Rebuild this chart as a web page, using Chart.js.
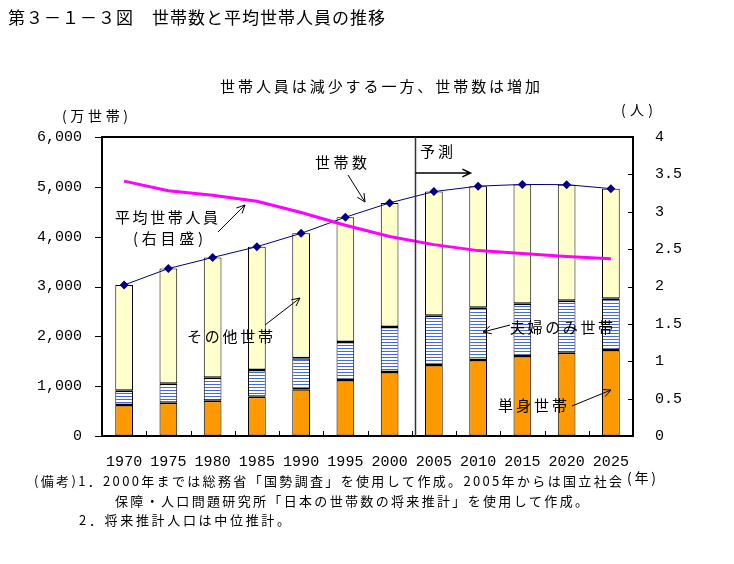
<!DOCTYPE html>
<html>
<head>
<meta charset="utf-8">
<script src="https://cdn.jsdelivr.net/npm/chart.js@4"></script>
<style>
  html, body { margin: 0; padding: 0; background: #fff; }
  canvas { display: block; }
</style>
</head>
<body>
<canvas id="chart" width="734" height="564"></canvas>
<script>
// data (万世帯 / 人)
const years = ['1970', '1975', '1980', '1985', '1990', '1995', '2000', '2005', '2010', '2015', '2020', '2025'];
const singleHH = [620, 669, 709, 789, 940, 1124, 1285, 1425, 1525, 1605, 1672, 1726];
const coupleHH = [290, 380, 460, 536, 622, 762, 902, 989, 1050, 1050, 1044, 1029];
const otherHH = [2120, 2311, 2413, 2473, 2505, 2504, 2491, 2490, 2439, 2393, 2328, 2209];
const totalHH = [3030, 3360, 3582, 3798, 4067, 4390, 4678, 4904, 5014, 5048, 5044, 4964];
const avgSize = [3.41, 3.28, 3.22, 3.14, 2.99, 2.82, 2.67, 2.56, 2.48, 2.44, 2.40, 2.37];
const leftMax = 6000, leftStep = 1000;
const rightMax = 4, rightStep = 0.5;

const jp = '"Noto Sans CJK JP", sans-serif';
const num = '"Liberation Mono", monospace';

// white with blue horizontal stripes for 夫婦のみ世帯
const pc = document.createElement('canvas');
pc.width = 4; pc.height = 3;
const pctx = pc.getContext('2d');
pctx.fillStyle = '#fff';
pctx.fillRect(0, 0, 4, 3);
pctx.fillStyle = '#4169e1';
pctx.fillRect(0, 0, 4, 1);
const stripes = pctx.createPattern(pc, 'repeat');

// draw text stretched to a given width
function fitText(ctx, text, x, y, w, size) {
  ctx.font = size + 'px ' + jp;
  ctx.letterSpacing = '0px';
  const n = [...text].length;
  const m = ctx.measureText(text).width;
  const ls = n > 1 ? (w - m) / (n - 1) : 0;
  ctx.letterSpacing = ls + 'px';
  ctx.textAlign = 'left';
  ctx.textBaseline = 'middle';
  ctx.fillText(text, x, y);
  ctx.letterSpacing = '0px';
}

function arrow(ctx, x1, y1, x2, y2) {
  const a = Math.atan2(y2 - y1, x2 - x1);
  const h = 9, s = 0.45;
  ctx.beginPath();
  ctx.moveTo(x1, y1);
  ctx.lineTo(x2, y2);
  ctx.moveTo(x2 - h * Math.cos(a - s), y2 - h * Math.sin(a - s));
  ctx.lineTo(x2, y2);
  ctx.lineTo(x2 - h * Math.cos(a + s), y2 - h * Math.sin(a + s));
  ctx.stroke();
}

const decor = {
  id: 'decor',
  afterDraw(chart) {
    const ctx = chart.ctx;
    const a = chart.chartArea;
    const x = chart.scales.x, y = chart.scales.y, y1 = chart.scales.y1;
    ctx.save();
    ctx.strokeStyle = '#000';
    ctx.fillStyle = '#000';

    // frame
    ctx.lineWidth = 2;
    ctx.strokeRect(a.left, a.top, a.right - a.left, a.bottom - a.top);

    // ticks
    ctx.lineWidth = 1;
    ctx.beginPath();
    for (let v = 0; v <= leftMax; v += leftStep) {
      const py = Math.round(y.getPixelForValue(v)) + 0.5;
      ctx.moveTo(a.left - 7, py); ctx.lineTo(a.left, py);
    }
    for (let v = 0; v <= rightMax; v += rightStep) {
      const py = Math.round(y1.getPixelForValue(v)) + 0.5;
      ctx.moveTo(a.right - 5, py); ctx.lineTo(a.right, py);
    }
    const cw = x.getPixelForValue(1) - x.getPixelForValue(0);
    for (let i = 1; i < years.length; i++) {
      const px = Math.round(x.getPixelForValue(i) - cw / 2) + 0.5;
      ctx.moveTo(px, a.bottom - 5); ctx.lineTo(px, a.bottom);
    }
    ctx.stroke();

    // forecast divider
    const fx = Math.round(x.getPixelForValue(7) - cw * 0.43) + 0.5;
    ctx.lineWidth = 1.5;
    ctx.strokeStyle = '#333';
    ctx.beginPath();
    ctx.moveTo(fx, a.top); ctx.lineTo(fx, a.bottom);
    ctx.stroke();
    ctx.strokeStyle = '#000';
    ctx.lineWidth = 1.5;
    arrow(ctx, fx, 173, fx + 55, 173);

    // titles
    fitText(ctx, '第３－１－３図　世帯数と平均世帯人員の推移', 8, 18, 377, 17);
    fitText(ctx, '世帯人員は減少する一方、世帯数は増加', 220, 86, 320, 15);
    fitText(ctx, '(万世帯)', 62, 116, 66, 14);
    fitText(ctx, '(人)', 621, 110, 32, 14);
    fitText(ctx, '(年)', 627, 478, 29, 14);

    // labels in plot
    fitText(ctx, '予測', 420, 151, 33, 15);
    fitText(ctx, '世帯数', 315, 162, 52, 15);
    fitText(ctx, '平均世帯人員', 115, 217, 103, 15);
    fitText(ctx, '(右目盛)', 133, 238, 70, 15);
    fitText(ctx, 'その他世帯', 187, 336, 86, 15);
    fitText(ctx, '夫婦のみ世帯', 510, 327, 103, 15);
    fitText(ctx, '単身世帯', 498, 405, 69, 15);

    ctx.lineWidth = 1;
    arrow(ctx, 348, 175, 365, 202);
    arrow(ctx, 218, 232, 245, 205);
    arrow(ctx, 265, 325, 300, 298);
    arrow(ctx, 510, 325, 483, 332);
    arrow(ctx, 572, 406, 611, 390);

    // notes
    fitText(ctx, '(備考)1．2000年までは総務省「国勢調査」を使用して作成。2005年からは国立社会', 34, 481, 588, 13);
    fitText(ctx, '保障・人口問題研究所「日本の世帯数の将来推計」を使用して作成。', 115, 501, 473, 13);
    fitText(ctx, '2．将来推計人口は中位推計。', 79, 520, 211, 13);
    ctx.restore();
  }
};

const barBase = {
  type: 'bar', stack: 'hh', borderColor: '#000',
  borderWidth: { top: 1.5, bottom: 1.5, left: 1, right: 1 },
  borderSkipped: false, order: 3, yAxisID: 'y'
};

new Chart(document.getElementById('chart'), {
  data: {
    labels: years,
    datasets: [
      Object.assign({}, barBase, { label: '単身世帯', data: singleHH, backgroundColor: '#ff9900' }),
      Object.assign({}, barBase, { label: '夫婦のみ世帯', data: coupleHH, backgroundColor: stripes }),
      Object.assign({}, barBase, { label: 'その他世帯', data: otherHH, backgroundColor: '#ffffcc', borderWidth: { top: 1, bottom: 1.5, left: 1, right: 1 } }),
      {
        type: 'line', label: '世帯数', data: totalHH, stack: 'total', yAxisID: 'y', order: 2,
        borderColor: '#000080', borderWidth: 1, backgroundColor: '#000080',
        pointStyle: 'rectRot', pointRadius: 4.5, pointBorderWidth: 0, tension: 0
      },
      {
        type: 'line', label: '平均世帯人員', data: avgSize, yAxisID: 'y1', order: 1,
        borderColor: '#ff00ff', borderWidth: 3, pointRadius: 0, tension: 0
      }
    ]
  },
  options: {
    responsive: false,
    animation: false,
    devicePixelRatio: 1,
    layout: { padding: { top: 137, left: 0, right: 0, bottom: 98 } },
    plugins: { legend: { display: false }, tooltip: { enabled: false }, title: { display: false } },
    datasets: { bar: { barPercentage: 0.4, categoryPercentage: 1 } },
    scales: {
      x: {
        stacked: true,
        grid: { display: false },
        border: { display: false },
        ticks: { color: '#000', font: { family: num, size: 15 }, padding: 9, maxRotation: 0, autoSkip: false },
        afterFit: (s) => { s.height = 30; }
      },
      y: {
        position: 'left', stacked: true, min: 0, max: leftMax,
        grid: { display: false },
        border: { display: false },
        ticks: {
          stepSize: leftStep, color: '#000', padding: 12,
          font: { family: num, size: 15 },
          callback: (v) => v.toLocaleString('en-US')
        },
        afterFit: (s) => { s.width = 102; }
      },
      y1: {
        position: 'right', min: 0, max: rightMax,
        grid: { display: false },
        border: { display: false },
        ticks: {
          stepSize: rightStep, color: '#000', padding: 14,
          font: { family: num, size: 15 },
          callback: (v) => String(Number(v))
        },
        afterFit: (s) => { s.width = 101; }
      }
    }
  },
  plugins: [decor]
});
</script>
</body>
</html>
